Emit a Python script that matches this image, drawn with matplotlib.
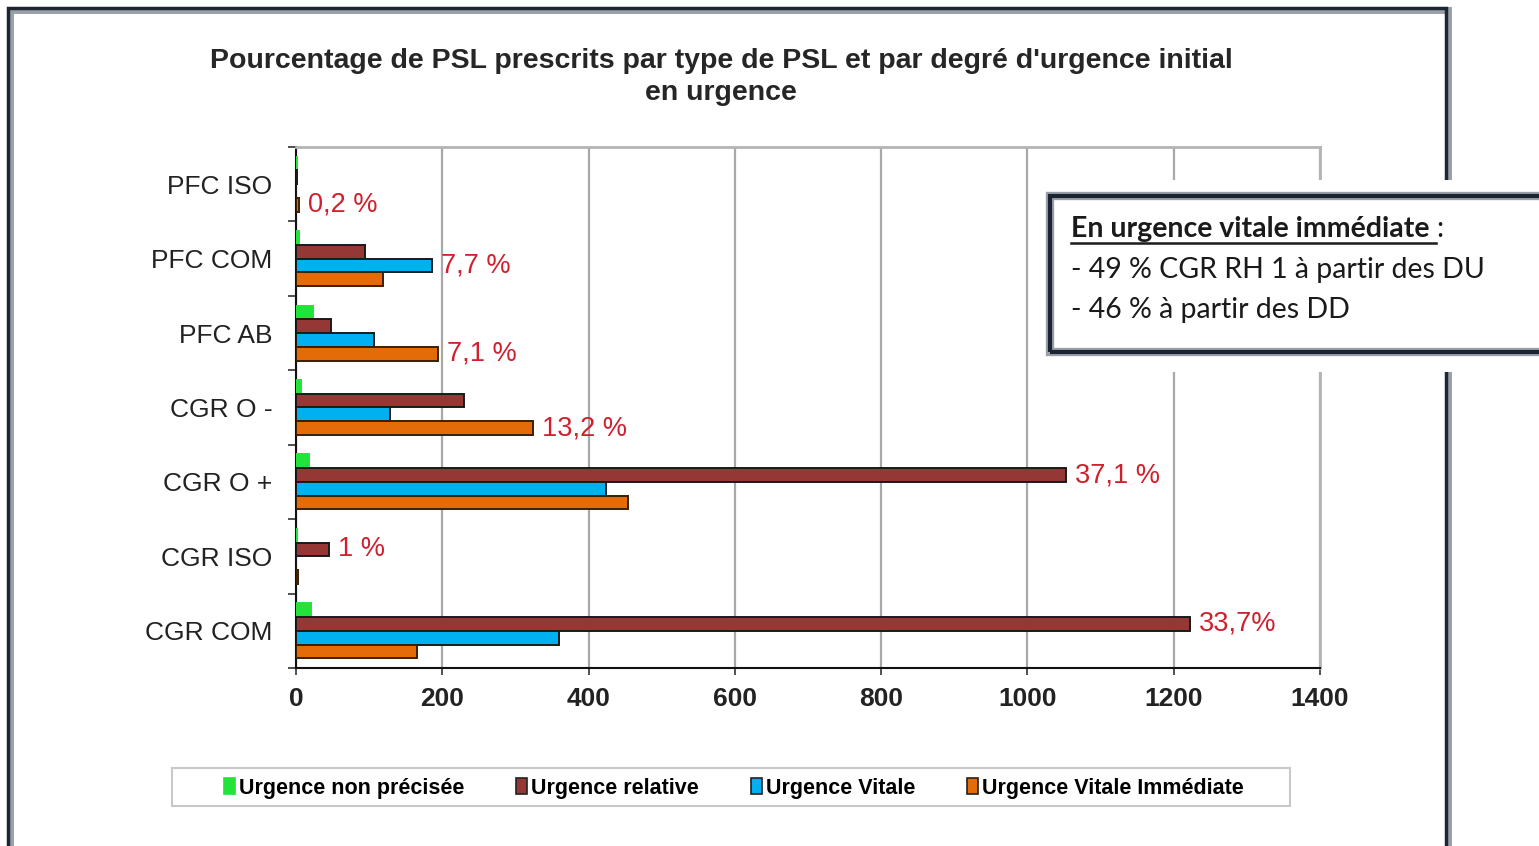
import numpy as np
import matplotlib
matplotlib.use('Agg')
import matplotlib.pyplot as plt
from matplotlib.patches import Rectangle
from matplotlib.lines import Line2D

# Données
categories = ['CGR COM', 'CGR ISO', 'CGR O +', 'CGR O -', 'PFC AB', 'PFC COM', 'PFC ISO']
non_precisee = [21, 2, 18, 7, 23, 4, 1]
relative = [1222, 45, 1053, 230, 48, 94, 2]
vitale = [360, 0, 424, 129, 107, 186, 0]
vitale_imm = [165, 3, 454, 324, 194, 119, 4]
pct_labels = ['33,7%', '1 %', '37,1 %', '13,2 %', '7,1 %', '7,7 %', '0,2 %']
series_names = ['Urgence non précisée', 'Urgence relative', 'Urgence Vitale', 'Urgence Vitale Immédiate']
xticks = [0, 200, 400, 600, 800, 1000, 1200, 1400]

colors = ['#22e33a', '#953735', '#00b0f0', '#e36c09']
edges = ['#22e33a', '#1a1a1a', '#1a1a1a', '#3a2000']

W, H = 1539, 846
def fx(x):
    return x / W
def fy(y):
    return 1 - y / H

fig = plt.figure(figsize=(W / 100, H / 100), dpi=100)
fig.patch.set_facecolor('white')

# cadre extérieur
fig.patches.append(Rectangle((fx(10), fy(880)), fx(1448) - fx(10), fy(10) - fy(880),
                             transform=fig.transFigure, fill=False, edgecolor='#9aa0a8', lw=5, zorder=0))
fig.patches.append(Rectangle((fx(8), fy(880)), fx(1446) - fx(8), fy(8) - fy(880),
                             transform=fig.transFigure, fill=False, edgecolor='#1f2633', lw=2.5, zorder=0))

ax = fig.add_axes([fx(296), fy(668), fx(1320) - fx(296), fy(147) - fy(668)])
y = np.arange(len(categories))
h = 0.185
series = [non_precisee, relative, vitale, vitale_imm]
offsets = [1.5 * h, 0.5 * h, -0.5 * h, -1.5 * h]
for vals, off, c, e, name in zip(series, offsets, colors, edges, series_names):
    ax.barh(y + off, vals, height=h, color=c, edgecolor=e, linewidth=1.4, label=name, zorder=3)

# étiquettes en pourcentage à côté de la plus longue barre
for i, lab in enumerate(pct_labels):
    vals = [s[i] for s in series]
    k = int(np.argmax(vals))
    ax.text(vals[k] + 12, y[i] + offsets[k], lab, color='#d0202e', fontsize=19.5,
            family='Liberation Sans', va='center', ha='left', zorder=4)

ax.set_xlim(0, 1400)
ax.set_ylim(-0.5, len(categories) - 0.5)
ax.set_xticks(xticks)
ax.set_xticklabels([str(v) for v in xticks], fontsize=19, family='Liberation Sans',
                   fontweight='bold', color='#222222')
ax.set_yticks(y)
ax.set_yticklabels(categories, fontsize=19, family='Liberation Sans', color='#222222')
ax.set_yticks(np.arange(-0.5, len(categories), 1), minor=True)
ax.tick_params(axis='y', which='major', length=0, pad=17)
ax.tick_params(axis='y', which='minor', length=6, width=1.2, direction='out', color='#333333')
ax.tick_params(axis='x', length=5, width=1.2, pad=9, color='#333333')
ax.grid(axis='x', color='#a8a8a8', linewidth=1.6, zorder=0)
ax.set_axisbelow(True)
for s in ['top', 'right']:
    ax.spines[s].set_color('#b4b4b4')
    ax.spines[s].set_linewidth(2)
for s in ['left', 'bottom']:
    ax.spines[s].set_color('#111111')
    ax.spines[s].set_linewidth(1.5)

# titre
fig.text(fx(721), fy(77), "Pourcentage de PSL prescrits par type de PSL et par degré d'urgence initial\nen urgence",
         ha='center', va='center', fontsize=20.5, fontweight='bold', family='Liberation Sans',
         color='#262626', linespacing=1.32)

# légende
fig.patches.append(Rectangle((fx(172), fy(806)), fx(1290) - fx(172), fy(768) - fy(806),
                             transform=fig.transFigure, facecolor='white', edgecolor='#c8c8c8', lw=1.5))
handles = [Rectangle((0, 0), 1, 1, facecolor=c, edgecolor='#222222' if i else c, lw=1.2)
           for i, c in enumerate(colors)]
fig.legend(handles, series_names, loc='center', bbox_to_anchor=(fx(734), fy(788)), ncol=4,
           frameon=False, handlelength=0.5, handleheight=0.75, handletextpad=0.2,
           columnspacing=2.4, prop={'family': 'Liberation Sans', 'weight': 'bold', 'size': 15.5})

# encadré
fig.patches.append(Rectangle((fx(1036), fy(372)), fx(1539) - fx(1036), fy(180) - fy(372),
                             transform=fig.transFigure, facecolor='white', edgecolor='none', zorder=1))
fig.patches.append(Rectangle((fx(1050), fy(352)), fx(1560) - fx(1050), fy(196) - fy(352),
                             transform=fig.transFigure, facecolor='white', edgecolor='#9aa0a8', lw=6, zorder=2))
fig.patches.append(Rectangle((fx(1050), fy(352)), fx(1560) - fx(1050), fy(196) - fy(352),
                             transform=fig.transFigure, facecolor='none', edgecolor='#1c2433', lw=3, zorder=2))
t1 = fig.text(fx(1071), fy(229), 'En urgence vitale immédiate ', fontsize=20.5, fontweight='bold',
              family='Lato', color='#1a1a1a', va='center', ha='left', zorder=3)
fig.canvas.draw()
bb = t1.get_window_extent()
fig.text(bb.x1 / W, fy(229), ':', fontsize=20.5, family='Lato', color='#1a1a1a',
         va='center', ha='left', zorder=3)
fig.lines.append(Line2D([bb.x0 / W, bb.x1 / W], [fy(243), fy(243)], transform=fig.transFigure,
                        color='#1a1a1a', lw=1.8, zorder=3))
fig.text(fx(1071), fy(270), '- 49 % CGR RH 1 à partir des DU', fontsize=20.5, family='Lato',
         color='#1a1a1a', va='center', ha='left', zorder=3)
fig.text(fx(1071), fy(310), '- 46 % à partir des DD', fontsize=20.5, family='Lato',
         color='#1a1a1a', va='center', ha='left', zorder=3)

fig.savefig('out.png', dpi=100, facecolor='white')
